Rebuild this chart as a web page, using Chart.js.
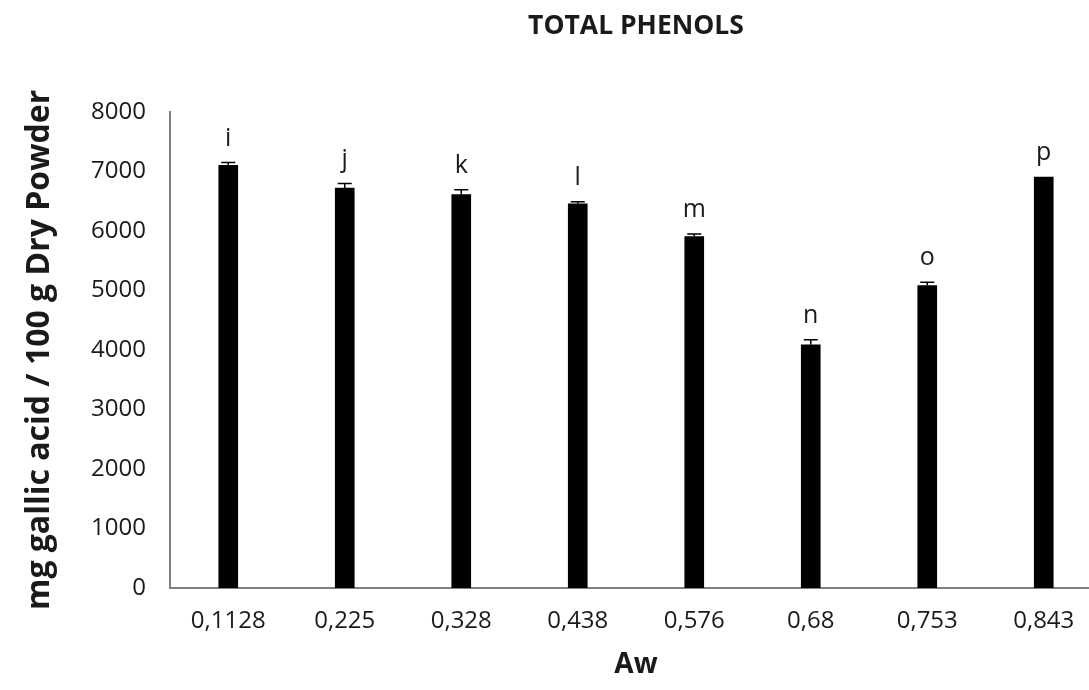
<!DOCTYPE html>
<html>
<head>
<meta charset="utf-8">
<script src="https://cdn.jsdelivr.net/npm/chart.js@4.4.1/dist/chart.umd.min.js"></script>
<style>
  html, body { margin: 0; padding: 0; background: #fff; overflow: hidden; }
  #wrap { width: 1105px; height: 690px; }
</style>
</head>
<body>
<div id="wrap"><canvas id="chart" width="1105" height="690"></canvas></div>
<script>
// water activity levels and total phenols (mg gallic acid / 100 g)
var categories = ['0,1128', '0,225', '0,328', '0,438', '0,576', '0,68', '0,753', '0,843'];
var phenols = [7100, 6720, 6610, 6455, 5905, 4085, 5080, 6905];
var errors = [50, 75, 80, 35, 40, 85, 55, 0];
var letters = ['i', 'j', 'k', 'l', 'm', 'n', 'o', 'p'];
var yMin = 0, yMax = 8000, yStep = 1000;

var axisColor = '#7f7f7f';
var textColor = '#1a1a1a';

// error bars (upper half) plus the significance letters
var errorBars = {
  id: 'errorBars',
  afterDatasetsDraw: function (chart) {
    var ctx = chart.ctx;
    var y = chart.scales.y;
    var meta = chart.getDatasetMeta(0);
    ctx.save();
    meta.data.forEach(function (bar, i) {
      var top = y.getPixelForValue(phenols[i] + errors[i]);
      if (errors[i] > 0) {
        var base = y.getPixelForValue(phenols[i]);
        ctx.strokeStyle = '#000';
        ctx.lineWidth = 1.5;
        ctx.beginPath();
        ctx.moveTo(bar.x, base);
        ctx.lineTo(bar.x, top);
        ctx.moveTo(bar.x - 7, top);
        ctx.lineTo(bar.x + 7, top);
        ctx.stroke();
      }
      ctx.fillStyle = textColor;
      ctx.font = '25px "Open Sans"';
      ctx.textAlign = 'center';
      ctx.textBaseline = 'middle';
      ctx.fillText(letters[i], bar.x, top - 24);
    });
    ctx.restore();
  }
};

new Chart(document.getElementById('chart').getContext('2d'), {
  type: 'bar',
  data: {
    labels: categories,
    datasets: [{
      data: phenols,
      backgroundColor: '#000',
      borderWidth: 0,
      barThickness: 19
    }]
  },
  options: {
    responsive: false,
    animation: false,
    layout: { padding: { left: 0, right: 3, top: 0, bottom: 0 } },
    plugins: {
      legend: { display: false },
      tooltip: { enabled: false },
      title: {
        display: true,
        text: 'TOTAL PHENOLS',
        fullSize: false,
        color: textColor,
        font: { family: 'Open Sans', size: 26.5, weight: 'bold', lineHeight: 1.2 },
        padding: { top: 11, bottom: 69 }
      }
    },
    scales: {
      x: {
        grid: { display: false, drawTicks: false },
        border: { display: true, color: axisColor, width: 2 },
        ticks: {
          color: textColor,
          font: { family: 'Open Sans', size: 24 },
          padding: 19,
          maxRotation: 0,
          autoSkip: false
        },
        title: {
          display: true,
          text: 'Aw',
          color: textColor,
          font: { family: 'Open Sans', size: 28, weight: 'bold', lineHeight: 1.2 },
          padding: { top: 0, bottom: 8 }
        },
        afterFit: function (scale) { scale.height = 102; }
      },
      y: {
        min: yMin,
        max: yMax,
        grid: { display: false, drawTicks: false },
        border: { display: true, color: axisColor, width: 2 },
        ticks: {
          stepSize: yStep,
          color: textColor,
          font: { family: 'Open Sans', size: 24 },
          padding: 24,
          callback: function (v) { return String(v); }
        },
        title: {
          display: true,
          text: 'mg gallic acid / 100 g Dry Powder',
          color: textColor,
          font: { family: 'Open Sans', size: 32, weight: 'bold', lineHeight: 1.2 },
          padding: { top: 21, bottom: 0 }
        },
        afterFit: function (scale) { scale.width = 170; }
      }
    }
  },
  plugins: [errorBars]
});
</script>
</body>
</html>
